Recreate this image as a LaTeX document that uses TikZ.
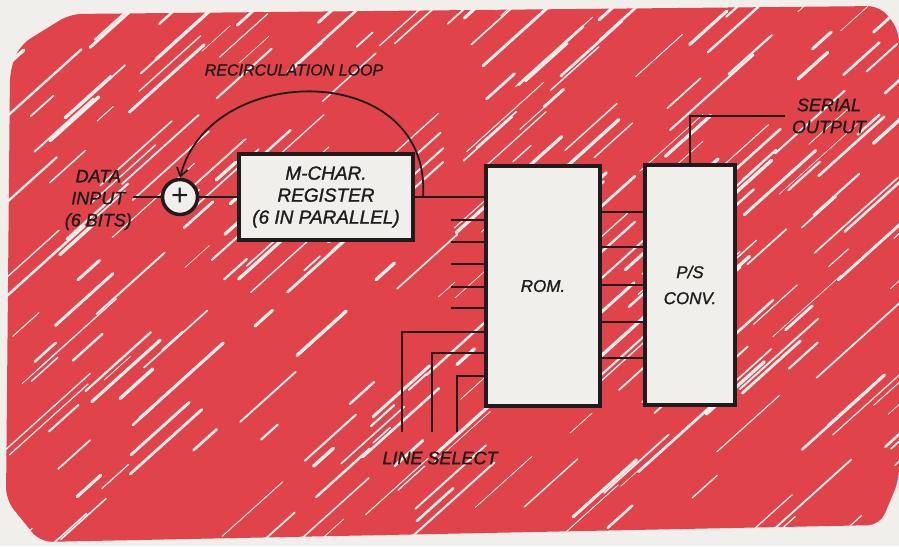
\documentclass[tikz,border=0pt]{standalone}
\usepackage{fontspec}
\setmainfont{Liberation Sans}[ItalicFeatures={FakeBold=1.2}]
\usetikzlibrary{arrows.meta,positioning,calc}
\definecolor{cscrib}{RGB}{224,68,74}
\definecolor{cpaper}{RGB}{241,239,236}
\definecolor{cink}{RGB}{30,28,28}

\begin{document}
\begin{tikzpicture}[
  x=1pt, y=-1pt,
  font=\itshape\fontsize{18}{22}\selectfont,
  block/.style={draw=cink, fill=cpaper, line width=4pt, align=center, inner sep=0pt, text=cink},
  wire/.style={draw=cink, line width=1.8pt},
  ar/.style={wire, -{Straight Barb[length=8pt,width=11pt]}},
  lbl/.style={text=cink, align=center, inner sep=1pt},
  streak/.style={draw=cpaper, line cap=round},
]
% --- scribbled background ---
\useasboundingbox (0,0) rectangle (899,546);
\fill[cpaper] (0,0) rectangle (899,546);
\fill[cscrib, rounded corners=12pt] (20,45) -- (70,14) -- (880,6) -- (899,30) -- (899,480)
  -- (880,525) -- (40,542) -- (6,500) -- (10,70) -- cycle;
\pgfmathsetseed{42}
\foreach \i in {1,...,280}{
  \pgfmathsetmacro\sx{rnd*899}
  \pgfmathsetmacro\sy{rnd*546}
  \pgfmathsetmacro\sl{20+rnd*95}
  \pgfmathsetmacro\sw{0.6+rnd*2.8}
  \draw[streak, line width=\sw pt] (\sx,\sy) -- ++(-42:\sl);
}

% --- blocks ---
\node[block, circle, line width=3.5pt, minimum size=35pt, font=\upshape\fontsize{30}{30}\selectfont] (adder) at (180,197) {+};
\node[block, minimum width=174pt, minimum height=86pt, font=\itshape\fontsize{19}{22}\selectfont] (register) at (326,197)
  {M-CHAR.\\REGISTER\\(6 IN PARALLEL)};
\node[block, minimum width=114pt, minimum height=240pt, font=\itshape\fontsize{17}{22}\selectfont] (rom) at (543,286) {ROM.};
\node[block, minimum width=90pt, minimum height=240pt, font=\itshape\fontsize{17}{26}\selectfont] (ps) at (690,285) {P/S\\CONV.};

% --- labels ---
\node[lbl, anchor=east] (datain) at (133,200) {DATA\\INPUT\\(6 BITS)};
\node[lbl, font=\itshape\fontsize{16}{20}\selectfont] (recirc) at (294,70) {RECIRCULATION LOOP};
\node[lbl] (select) at (440,458) {LINE SELECT};
\node[lbl] (serial) at (829,116) {SERIAL\\OUTPUT};

% --- connectors ---
\draw[wire] (datain.east |- adder) -- (adder);
\draw[wire] (adder) -- (register);
\draw[wire] (register.east) -- (register.east -| rom.west);
\draw[ar] ([xshift=8pt]register.east) .. controls (432,60) and (210,60) .. (adder.north);
\foreach \y [count=\i] in {220,242,264,287,308}{
  \coordinate (stub\i) at (451,\y);
  \draw[wire] (stub\i) -- (stub\i -| rom.west);
}
\foreach \x/\y [count=\i] in {402/332,432/353,457/376}{
  \coordinate (sel\i) at (\x,432);
  \coordinate (selrow\i) at (0,\y);
  \draw[wire] (sel\i) |- (rom.west |- selrow\i);
}
\foreach \y [count=\i] in {212,247,285,322,358}{
  \coordinate (bus\i) at (0,\y);
  \draw[wire] (rom.east |- bus\i) -- (ps.west |- bus\i);
}
\draw[wire] (ps.north) |- ([xshift=-6pt]serial.west);
\end{tikzpicture}
\end{document}
